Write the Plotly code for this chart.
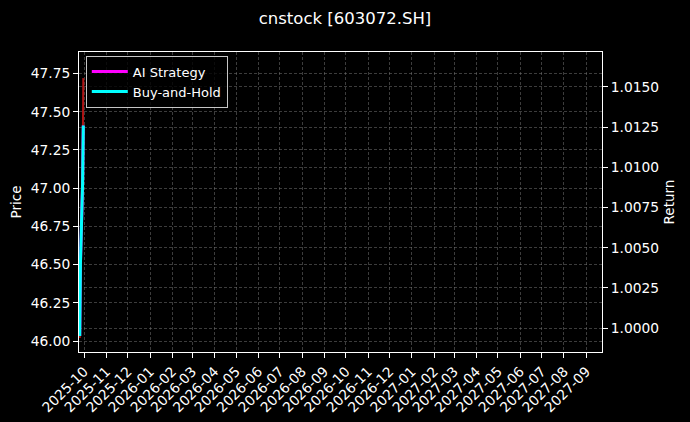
import plotly.graph_objects as go

# chart values
dates = ["2025-09-25", "2025-09-26", "2025-09-29", "2025-09-30"]
price = [46.02, 46.55, 47.10, 47.72]
ai_strategy = [0.9995, 1.0040, 1.0090, 1.0126]
buy_and_hold = [0.9995, 1.0040, 1.0090, 1.0126]

x_range = ["2025-09-24", "2027-09-23"]
price_range = [45.928, 47.891]
return_range = [0.99851, 1.01717]

FONT = "DejaVu Sans"
GRID = "rgba(120,120,120,0.5)"

fig = go.Figure()
fig.add_trace(go.Scatter(
    x=dates, y=price, name="Price", mode="lines",
    line=dict(color="#b01515", width=2), showlegend=False, yaxis="y",
))
fig.add_trace(go.Scatter(
    x=dates, y=ai_strategy, name="AI Strategy", mode="lines",
    line=dict(color="#ff00ff", width=3), yaxis="y2",
))
fig.add_trace(go.Scatter(
    x=dates, y=buy_and_hold, name="Buy-and-Hold", mode="lines",
    line=dict(color="#00ffff", width=3), yaxis="y2",
))

axis_common = dict(
    showline=True, linecolor="white", linewidth=1,
    ticks="outside", ticklen=5, tickcolor="white",
    tickfont=dict(family=FONT, size=13.8, color="white"),
    showgrid=True, gridcolor=GRID, griddash="3px,2px", gridwidth=0.6,
    zeroline=False, automargin=False,
)

fig.update_layout(
    width=690, height=422,
    paper_bgcolor="black", plot_bgcolor="black",
    margin=dict(l=79, r=88, t=52, b=70),
    font=dict(family=FONT, color="white", size=13),
    title=dict(
        text="cnstock [603072.SH]", x=0.5, xref="container",
        y=1 - 18 / 422, yref="container", yanchor="middle",
        font=dict(family=FONT, size=16.5, color="white"),
    ),
    xaxis=dict(
        range=x_range, type="date", dtick="M1", tick0="2025-10-01",
        tickformat="%Y-%m", tickangle=-45, mirror=True, **axis_common,
    ),
    yaxis=dict(
        range=price_range, dtick=0.25, tick0=46, tickformat=".2f",
        title=dict(text="Price", font=dict(family=FONT, size=13.5), standoff=6),
        **axis_common,
    ),
    yaxis2=dict(
        range=return_range, dtick=0.0025, tick0=1, tickformat=".4f",
        overlaying="y", side="right",
        title=dict(text="Return", font=dict(family=FONT, size=13.5), standoff=6),
        **axis_common,
    ),
    legend=dict(
        x=0.013, y=0.988, xanchor="left", yanchor="top",
        bgcolor="rgba(0,0,0,0.8)", bordercolor="rgba(220,220,220,0.9)",
        borderwidth=1, font=dict(family=FONT, size=13, color="white"),
        itemwidth=36, tracegroupgap=0,
    ),
)

fig.write_html(
    "out.html",
    config={"displayModeBar": False},
    post_script="document.body.style.margin='0';document.body.style.background='black';",
)
